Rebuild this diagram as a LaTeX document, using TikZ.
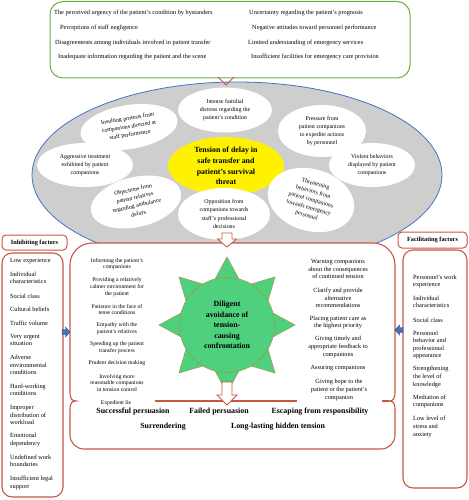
\documentclass[tikz,border=0pt]{standalone}
\usepackage{fontspec}
\setmainfont{Liberation Serif}
\usetikzlibrary{shapes.geometric}
\definecolor{redc}{RGB}{200,88,66}
\definecolor{greenc}{RGB}{112,173,71}
\definecolor{bluec}{RGB}{68,114,196}
\definecolor{grayc}{RGB}{206,206,206}
\definecolor{sunc}{RGB}{78,208,124}
\definecolor{sunb}{RGB}{165,150,80}
\newcommand\ftop{\fontsize{6.3}{7.5}\selectfont}
\newcommand\fell{\fontsize{5.9}{8.2}\selectfont}
\newcommand\fbig{\fontsize{7.9}{10.6}\selectfont\bfseries}
\newcommand\fside{\fontsize{6.3}{7.6}\selectfont}
\newcommand\fleftl{\fontsize{5.7}{6.8}\selectfont}
\newcommand\frightl{\fontsize{6.3}{7.8}\selectfont}
\newcommand\flab{\fontsize{6.3}{7.5}\selectfont\bfseries}
\begin{document}
\begin{tikzpicture}[x=1pt,y=-1pt,
  txt/.style={inner sep=0pt, align=center},
  wel/.style={ellipse, fill=white, inner sep=0pt, align=center, font=\fell},
  redline/.style={draw=redc, line width=1.1pt},
  lablbox/.style={draw=redc, line width=1pt, rounded corners=4, fill=white},
  sunpart/.style={fill=sunc, draw=sunb, line width=0.5pt},
  blockarrow/.style={fill=white, draw=redc, line width=0.9pt, line join=miter},
  bluearrow/.style={fill=bluec, draw=bluec!60!black, line width=0.4pt}]
\useasboundingbox (0,0) rectangle (468,500);

% ---------- top box ----------
\draw[greenc, line width=1pt, rounded corners=13, fill=white] (50,1.5) rectangle (410,78);
\node[txt, anchor=west, font=\ftop] (t1) at (54,13) {The perceived urgency of the patient's condition by bystanders};
\node[txt, anchor=west, font=\ftop] (t2) at (60,28) {Perceptions of staff negligence};
\node[txt, anchor=west, font=\ftop] (t3) at (55,43) {Disagreements among individuals involved in patient transfer};
\node[txt, anchor=west, font=\ftop] (t4) at (58,57) {Inadequate information regarding the patient and the scene};
\node[txt, anchor=west, font=\ftop] (t5) at (249,13) {Uncertainty regarding the patient's prognosis};
\node[txt, anchor=west, font=\ftop] (t6) at (252,28) {Negative attitudes toward personnel performance};
\node[txt, anchor=west, font=\ftop] (t7) at (248,43) {Limited understanding of emergency services};
\node[txt, anchor=west, font=\ftop] (t8) at (251,57) {Insufficient facilities for emergency care provision};

% ---------- gray ellipse ----------
\draw[bluec, line width=0.8pt, fill=grayc] (237,175) ellipse [x radius=205, y radius=93];
\node[ellipse, fill=yellow, inner sep=0pt, minimum width=116, minimum height=58, align=center, font=\fbig] (core) at (226,166)
  {Tension of delay in\\safe transfer and\\patient's survival\\threat};
\node[wel, minimum width=94, minimum height=45] (e1) at (225,110) {Intense familial\\distress regarding the\\patient's condition};
\node[wel, minimum width=98, minimum height=44, rotate=9] (e2) at (129,127) {Insulting protests from\\companions directed at\\staff performance};
\node[wel, minimum width=96, minimum height=44] (e3) at (85,165) {Aggressive treatment\\exhibited by patient\\companions};
\node[wel, minimum width=92, minimum height=50, rotate=13] (e4) at (136,202) {Objections from\\patient relatives\\regarding ambulance\\delays};
\node[wel, minimum width=92, minimum height=52] (e5) at (224,214) {Opposition from\\companions towards\\staff's professional\\decisions};
\node[wel, minimum width=88, minimum height=52] (e6) at (322,131) {Pressure from\\patient companions\\to expedite actions\\by personnel};
\node[wel, minimum width=86, minimum height=44] (e7) at (372,165) {Violent behaviors\\displayed by patient\\companions};
\node[wel, minimum width=88, minimum height=62, rotate=-16] (e8) at (311,200) {Threatening\\behaviors from\\patient companions\\towards emergency\\personnel};

% V arrow from top box
\coordinate (va) at (218,77);
\coordinate (vb) at (226,85);
\coordinate (vc) at (234,77);
\draw[redc, line width=0.9pt] (va) -- (vb) -- (vc);

% ---------- central box ----------
\fill[white, rounded corners=22] (70,243) rectangle (395,449);
\draw[redline, rounded corners=22] (70,392) -- (70,243) -- (395,243) -- (395,392);
\draw[redline, rounded corners=14] (70,410) -- (70,449) -- (395,449) -- (395,410);
\draw[redline] (70,392) .. controls (70,399) and (72,401) .. (76,401) .. controls (72,401) and (70,403) .. (70,410);
\draw[redline] (395,392) .. controls (395,399) and (393,401) .. (389,401) .. controls (393,401) and (395,403) .. (395,410);
\draw[redline] (155,401) -- (297,401);
\draw[redline] (382,401) -- (389,401);

% block arrow from ellipse to central box
\draw[blockarrow] (222,233) -- (232,233) -- (232,239) -- (236.5,239) -- (227,247) -- (217.5,239) -- (222,239) -- cycle;

% ---------- sun ----------
\foreach \a in {0,45,...,315}{
  \draw[sunpart, rotate around={\a:(227,325)}] (295,325) -- (272,312.5) -- (272,337.5) -- cycle;
}
\node[circle, fill=sunc, draw=sunb, line width=0.6pt, minimum size=95, inner sep=0pt, align=center, font=\fbig] (sun) at (227,325)
  {Diligent\\avoidance of\\tension-\\causing\\confrontation};

% block arrow below sun
\draw[blockarrow] (222,382) -- (232,382) -- (232,395) -- (237,395) -- (227,405) -- (217,395) -- (222,395) -- cycle;

% left strategies
\node[txt, font=\fleftl] (l1) at (117,264) {Informing the patient's\\companions};
\node[txt, font=\fleftl] (l2) at (117,287) {Providing a relatively\\calmer environment for\\the patient};
\node[txt, font=\fleftl] (l3) at (117,309.5) {Patience in the face of\\tense conditions};
\node[txt, font=\fleftl] (l4) at (117,328.5) {Empathy with the\\patient's relatives};
\node[txt, font=\fleftl] (l5) at (117,347.5) {Speeding up the patient\\transfer process};
\node[txt, font=\fleftl] (l6) at (117,363) {Prudent decision making};
\node[txt, font=\fleftl] (l7) at (117,383) {Involving more\\reasonable companions\\in tension control};
\node[txt, font=\fleftl] (l8) at (116,403) {Expedient lie};

% right strategies
\node[txt, font=\frightl] (r1) at (338,269) {Warning companions\\about the consequences\\of continued tension};
\node[txt, font=\frightl] (r2) at (338,298) {Clarify and provide\\alternative\\recommendations};
\node[txt, font=\frightl] (r3) at (338,322.5) {Placing patient care as\\the highest priority};
\node[txt, font=\frightl] (r4) at (338,347) {Giving timely and\\appropriate feedback to\\companions};
\node[txt, font=\frightl] (r5) at (338,368) {Assuring companions};
\node[txt, font=\frightl] (r6) at (339,390) {Giving hope to the\\patient or the patient's\\companion};

% outcomes
\node[txt, font=\fbig] (o1) at (133,412) {Successful persuasion};
\node[txt, font=\fbig] (o2) at (219,412) {Failed persuasion};
\node[txt, font=\fbig] (o3) at (320,412) {Escaping from responsibility};
\node[txt, font=\fbig] (o4) at (163,427) {Surrendering};
\node[txt, font=\fbig] (o5) at (278,427) {Long-lasting hidden tension};

% ---------- inhibiting factors ----------
\draw[lablbox] (2,235) rectangle (67,250);
\node[txt, font=\flab] (ilab) at (34.5,242.5) {Inhibiting factors};
\draw[redline, rounded corners=10] (2,253) rectangle (63,497);
\node[txt, anchor=west, align=left, font=\fside] (i1) at (10,261) {Low experience};
\node[txt, anchor=west, align=left, font=\fside] (i2) at (10,278) {Individual\\characteristics};
\node[txt, anchor=west, align=left, font=\fside] (i3) at (10,296) {Social class};
\node[txt, anchor=west, align=left, font=\fside] (i4) at (10,309) {Cultural beliefs};
\node[txt, anchor=west, align=left, font=\fside] (i5) at (10,323) {Traffic volume};
\node[txt, anchor=west, align=left, font=\fside] (i6) at (10,340) {Very urgent\\situation};
\node[txt, anchor=west, align=left, font=\fside] (i7) at (10,365) {Adverse\\environmental\\conditions};
\node[txt, anchor=west, align=left, font=\fside] (i8) at (10,390) {Hard-working\\conditions};
\node[txt, anchor=west, align=left, font=\fside] (i9) at (10,415) {Improper\\distribution of\\workload};
\node[txt, anchor=west, align=left, font=\fside] (i10) at (10,440) {Emotional\\dependency};
\node[txt, anchor=west, align=left, font=\fside] (i11) at (10,461) {Undefined work\\boundaries};
\node[txt, anchor=west, align=left, font=\fside] (i12) at (10,483) {Insufficient legal\\support};

% ---------- facilitating factors ----------
\draw[lablbox] (398,232) rectangle (467,248);
\node[txt, font=\flab] (flab) at (432.5,240) {Facilitating factors};
\draw[redline, rounded corners=10] (403,250) rectangle (467,488);
\node[txt, anchor=west, align=left, font=\fside] (f1) at (413,281.5) {Personnel's work\\experience};
\node[txt, anchor=west, align=left, font=\fside] (f2) at (413,302) {Individual\\characteristics};
\node[txt, anchor=west, align=left, font=\fside] (f3) at (413,320) {Social class};
\node[txt, anchor=west, align=left, font=\fside] (f4) at (413,345) {Personnel\\behavior and\\professional\\appearance};
\node[txt, anchor=west, align=left, font=\fside] (f5) at (413,377) {Strengthening\\the level of\\knowledge};
\node[txt, anchor=west, align=left, font=\fside] (f6) at (413,401.5) {Mediation of\\companions};
\node[txt, anchor=west, align=left, font=\fside] (f7) at (413,427) {Low level of\\stress and\\anxiety};

% blue arrows
\draw[bluearrow] (62,329.5) -- (65.5,329.5) -- (65.5,327) -- (70,332) -- (65.5,337) -- (65.5,334.5) -- (62,334.5) -- cycle;
\draw[bluearrow] (403,327.5) -- (399.5,327.5) -- (399.5,325) -- (395,330) -- (399.5,335) -- (399.5,332.5) -- (403,332.5) -- cycle;
\end{tikzpicture}
\end{document}
